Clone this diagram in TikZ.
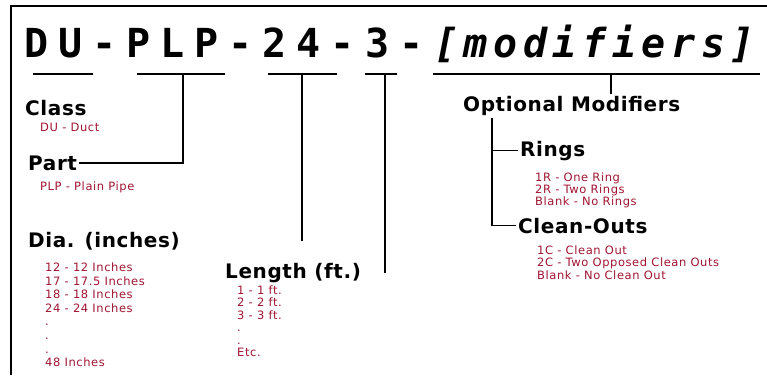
\documentclass[tikz,border=0pt]{standalone}
\usepackage{fontspec}
\setmainfont{DejaVu Sans}
\newfontfamily\codefont[LetterSpace=25]{DejaVu Sans Mono}
\newfontfamily\modfont[LetterSpace=14]{DejaVu Sans Mono}
\newfontfamily\headfont[LetterSpace=3]{DejaVu Sans}
\newfontfamily\redfont[LetterSpace=5]{DejaVu Sans}
\definecolor{partred}{RGB}{160,20,50}

\begin{document}
\begin{tikzpicture}[x=1pt,y=-1pt,
  heading/.style={inner sep=2pt,anchor=base west,font=\headfont\bfseries\fontsize{20}{24}\selectfont},
  redtext/.style={inner sep=0pt,anchor=north west,align=left,text=partred,font=\redfont\fontsize{11.5}{#1}\selectfont},
  redtext/.default=12,
  codeline/.style={line width=1.6pt},
  linkline/.style={line width=1.6pt},
  boxedge/.style={line width=2pt}]
\useasboundingbox (0,0) rectangle (767,375);
\draw[boxedge] (767,6) -- (11,6) -- (11,375);

\node[anchor=base west,inner sep=0pt,font=\codefont\bfseries\fontsize{40}{48}\selectfont] (code) at (24,57) {DU-PLP-24-3-};
\node[anchor=base west,inner sep=0pt,font=\modfont\bfseries\itshape\fontsize{40}{48}\selectfont] (mods) at (434,57) {[modifiers]};

\draw[codeline] (33,74) -- (93,74);
\draw[codeline] (137,74) -- (225,74);
\draw[codeline] (268,74) -- (337,74);
\draw[codeline] (365,74) -- (397,74);
\draw[codeline] (433,74) -- (760,74);
\coordinate (partu) at (183,74);
\coordinate (diau) at (302,74);
\coordinate (lenu) at (385,74);
\coordinate (modu) at (611,74);
\coordinate (optfoot) at (492,118);

\node[heading] (class) at (23,115) {Class};
\node[heading] (part) at (26,170) {Part};
\node[heading] (dia) at (26,247) {Dia. (inches)};
\node[heading] (len) at (223,278) {Length (ft.)};
\node[heading] (opt) at (461,111) {Optional Modifiers};
\node[heading] (rings) at (518,156) {Rings};
\node[heading] (clean) at (516,233) {Clean-Outs};

\node[redtext] (classlist) at (40,122.5) {DU - Duct};
\node[redtext] (partlist) at (40,181.5) {PLP - Plain Pipe};
\node[redtext=13.6] (dialist) at (45,262.5) {12 - 12 Inches\\17 - 17.5 Inches\\18 - 18 Inches\\24 - 24 Inches\\.\\.\\.\\48 Inches};
\node[redtext=12.5] (lenlist) at (237,285.5) {1 - 1 ft.\\2 - 2 ft.\\3 - 3 ft.\\.\\.\\Etc.};
\node[redtext=11] (ringlist) at (535,172.5) {1R - One Ring\\2R - Two Rings\\Blank - No Rings};
\node[redtext=12.5] (cleanlist) at (537,245.5) {1C - Clean Out\\2C - Two Opposed Clean Outs\\Blank - No Clean Out};

\draw[linkline] (part.east) -| (partu);
\draw[linkline] (diau) -- (diau |- dia.east);
\draw[linkline] (lenu) -- (lenu |- len.east);
\draw[linkline] (modu) -- (modu |- opt.north);
\draw[linkline] (optfoot) |- (rings.west);
\draw[linkline] (optfoot) |- (clean.west);
\end{tikzpicture}
\end{document}
